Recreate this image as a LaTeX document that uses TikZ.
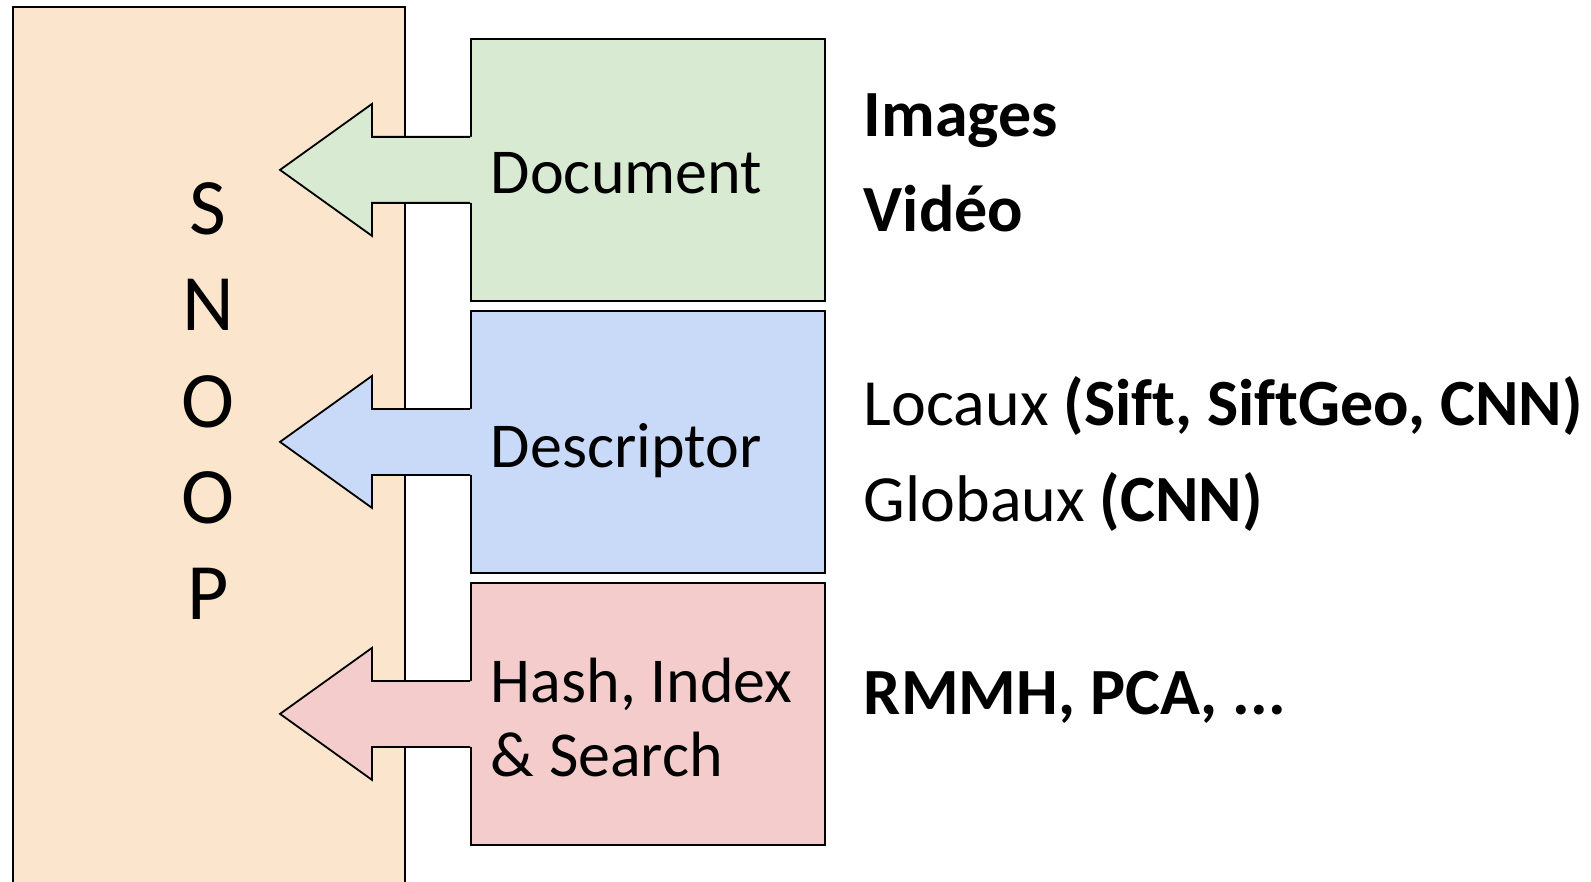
\documentclass[tikz,border=0pt]{standalone}
\usepackage{fontspec}
\setmainfont{Carlito}[Ligatures=NoCommon]
\usetikzlibrary{calc}
\definecolor{snoopfill}{HTML}{FCE5CD}
\definecolor{docfill}{HTML}{D9EAD3}
\definecolor{descfill}{HTML}{C9DAF8}
\definecolor{hashfill}{HTML}{F4CCCC}

% Block arrow pointing left out of a stage box: #1 = box name, #2 = fill colour
\newcommand\stagearrow[2]{%
  \fill[#2] ($(#1.west)+(2,-33)$) -- ($(#1.west)+(-98,-33)$) -- ($(#1.west)+(-98,-66)$)
    -- ($(#1.west)+(-190,0)$) -- ($(#1.west)+(-98,66)$) -- ($(#1.west)+(-98,33)$)
    -- ($(#1.west)+(2,33)$) -- cycle;
  \draw[line join=miter] ($(#1.west)+(0,-33)$) -- ($(#1.west)+(-98,-33)$) -- ($(#1.west)+(-98,-66)$)
    -- ($(#1.west)+(-190,0)$) -- ($(#1.west)+(-98,66)$) -- ($(#1.west)+(-98,33)$)
    -- ($(#1.west)+(0,33)$);
}

\begin{document}
\begin{tikzpicture}[x=0.5pt,y=-0.5pt,line width=0.9pt,
  stage/.style={draw=black, minimum width=177pt, minimum height=131pt, inner sep=0pt, anchor=north west},
  lbl/.style={anchor=base west, inner sep=0pt, font=\fontsize{32}{38}\selectfont},
  info/.style={anchor=base west, inner sep=0pt, font=\fontsize{33}{40}\selectfont},
  letter/.style={anchor=base, inner sep=0pt, font=\fontsize{40}{48}\selectfont}]
\useasboundingbox (0,0) rectangle (1591,882);

% tall SNOOP column, running off the bottom edge
\begin{scope}
  \clip (0,0) rectangle (1591,882);
  \node[draw=black, fill=snoopfill, anchor=north west, minimum width=196pt,
        minimum height=460pt, inner sep=0pt] (snoop) at (12,6) {};
\end{scope}
\node[letter] (s1) at (208,235) {S};
\node[letter] (s2) at (208,331) {N};
\node[letter] (s3) at (208,427) {O};
\node[letter] (s4) at (208,523) {O};
\node[letter] (s5) at (208,619) {P};

% the three stages
\node[stage, fill=docfill]  (doc)  at (470,38)  {};
\node[stage, fill=descfill] (desc) at (470,310) {};
\node[stage, fill=hashfill] (hash) at (470,582) {};

\stagearrow{doc}{docfill}
\stagearrow{desc}{descfill}
\stagearrow{hash}{hashfill}

\node[lbl] (tdoc)   at (490,194) {Document};
\node[lbl] (tdesc)  at (490,467) {Descriptor};
\node[lbl] (thash1) at (490,702) {Hash, Index};
\node[lbl] (thash2) at (490,776) {\& Search};

% details beside each stage
\node[info] (i1) at (863,137) {\textbf{Images}};
\node[info] (i2) at (863,232) {\textbf{Vidéo}};
\node[info] (i3) at (863,425) {Locaux \textbf{(Sift, SiftGeo, CNN)}};
\node[info] (i4) at (863,521) {Globaux \textbf{(CNN)}};
\node[info] (i5) at (863,714) {\textbf{RMMH, PCA, ...}};
\end{tikzpicture}
\end{document}
